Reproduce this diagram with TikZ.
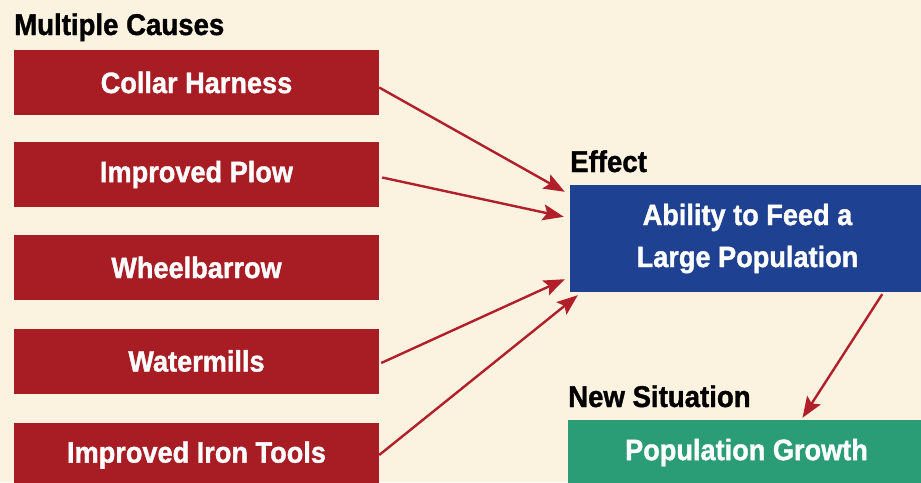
\documentclass[tikz,border=0pt]{standalone}
\usepackage{fontspec}
\setmainfont{Liberation Sans}[BoldFeatures={FakeStretch=0.92,FakeBold=1.2}]
\usetikzlibrary{arrows.meta}
\definecolor{paper}{HTML}{FBF2E0}
\definecolor{causered}{HTML}{A81C24}
\definecolor{effectblue}{HTML}{1F4191}
\definecolor{situgreen}{HTML}{2A9C76}
\definecolor{arrowred}{HTML}{B01F2A}
\tikzset{
  heading/.style={anchor=base west, inner sep=0pt, text=black,
    font=\fontsize{30}{32}\selectfont\bfseries},
  boxtext/.style={text=white, font=\fontsize{29.5}{42}\selectfont\bfseries,
    align=center, inner sep=0pt},
  causebox/.style={boxtext, fill=causered, minimum width=365pt, minimum height=65pt},
  effectbox/.style={boxtext, fill=effectblue, minimum width=355pt, minimum height=107pt},
  situbox/.style={boxtext, fill=situgreen, minimum width=357pt, minimum height=65pt},
  link/.style={draw=arrowred, line width=2.4pt,
    -{Stealth[length=21pt,width=16pt,inset=4pt]}},
}
\begin{document}
\begin{tikzpicture}[x=1pt,y=-1pt]
  \fill[paper] (0,0) rectangle (921,482);
  \useasboundingbox (0,0) rectangle (921,482);
  \begin{scope}
    \clip (0,0) rectangle (921,482);

    % causes column
    \node[heading] (hcause) at (14,35) {Multiple Causes};
    \node[causebox] (c1) at (196.5,82.5) {Collar Harness};
    \node[causebox] (c2) at (196.5,174.5) {Improved Plow};
    \node[causebox] (c3) at (196.5,267.5) {Wheelbarrow};
    \node[causebox] (c4) at (196.5,361) {Watermills};
    \node[causebox] (c5) at (196.5,455) {Improved Iron Tools};

    % effect
    \node[heading] (heff) at (570,172) {Effect};
    \node[effectbox] (eff) at (747.5,238.5) {Ability to Feed a\\Large Population};

    % new situation
    \node[heading] (hsit) at (568,407) {New Situation};
    \node[situbox] (sit) at (746.5,452.5) {Population Growth};

    % connectors
    \draw[link] ([yshift=-5pt]c1.east) -- ([xshift=-5pt,yshift=-7pt]eff.north west);
    \draw[link] ([xshift=3pt,yshift=-3pt]c2.east) -- ([xshift=-6pt,yshift=-32pt]eff.north west);
    \draw[link] ([xshift=2pt,yshift=-2pt]c4.east) -- ([xshift=-5pt,yshift=13pt]eff.south west);
    \draw[link] (c5.east) -- ([xshift=8pt,yshift=-3pt]eff.south west);
    \draw[link] ([xshift=-43pt,yshift=-2pt]eff.south east) -- ([xshift=56pt,yshift=2pt]sit.north);
  \end{scope}
\end{tikzpicture}
\end{document}
